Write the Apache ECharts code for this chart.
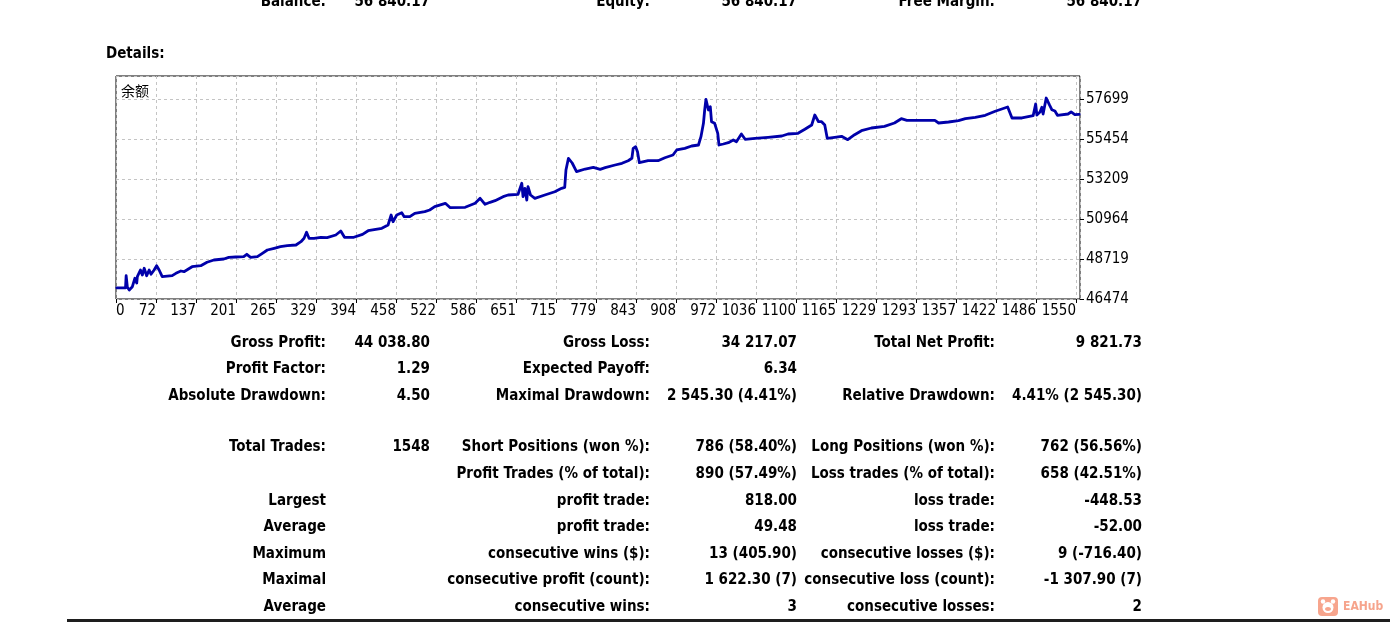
<!DOCTYPE html>
<html>
<head>
<meta charset="utf-8">
<script src="https://cdn.jsdelivr.net/npm/echarts@6/dist/echarts.min.js"></script>
<style>
html,body{margin:0;padding:0;background:#fff;}
#chart{width:1390px;height:622px;}
</style>
</head>
<body>
<div id="chart"></div>
<script>
// ---------- DATA ----------
const chartTitle = '余额';
const xTickLabels = ['0','72','137','201','265','329','394','458','522','586','651','715','779','843','908','972','1036','1100','1165','1229','1293','1357','1422','1486','1550'];
const trades = [9,23,24,26,29,34,38,41,42,47,50,53,57,61,64,69,73,77,82,98,104,112,117,130,144,154,165,181,189,200,213,218,224,235,243,251,262,272,283,297,305,310,314,318,326,337,347,361,369,375,390,404,413,435,445,450,453,456,459,461,467,471,480,488,504,512,520,537,545,569,585,593,601,609,617,630,638,654,660,662,665,668,670,674,681,697,713,724,729,731,735,741,748,762,775,786,794,810,821,831,837,839,843,846,849,863,879,890,903,909,922,933,944,948,952,954,956,960,963,965,970,975,977,984,992,1000,1005,1013,1019,1035,1056,1078,1088,1104,1115,1126,1131,1137,1142,1147,1151,1163,1174,1184,1195,1206,1222,1243,1259,1270,1279,1297,1324,1330,1346,1362,1373,1389,1405,1421,1441,1448,1464,1482,1486,1488,1493,1496,1498,1503,1508,1512,1517,1521,1538,1543,1549,1556];
const balance = [47100,47100,47780,47130,46980,47165,47636,47372,47726,48102,47821,48197,47782,48102,47860,48102,48343,48102,47726,47782,47916,48046,48006,48287,48343,48534,48663,48719,48814,48831,48848,48983,48814,48848,49039,49224,49320,49409,49465,49505,49690,49881,50217,49881,49881,49937,49914,50066,50290,49937,49937,50105,50307,50442,50627,51188,50812,50723,51188,51093,51317,51093,51093,51284,51374,51469,51654,51845,51598,51621,51845,52126,51789,51901,51991,52216,52311,52350,52968,52216,52687,52030,52777,52311,52126,52311,52496,52687,52743,53714,54371,54107,53619,53770,53866,53753,53843,53995,54090,54236,54371,54932,55022,54741,54124,54236,54236,54404,54556,54837,54932,55061,55117,55583,56335,57082,57682,57082,57267,56425,56335,55774,55117,55173,55246,55398,55303,55735,55437,55493,55549,55622,55735,55774,55998,56240,56801,56425,56425,56240,55493,55549,55605,55415,55695,55920,56071,56167,56352,56593,56503,56503,56503,56352,56408,56481,56593,56672,56784,57009,57250,56633,56633,56762,57418,56801,56970,57233,56857,57755,57379,57099,57025,56784,56857,56970,56818,56840];

const headerRow = ['Balance:','56 840.17','Equity:','56 840.17','Free Margin:','56 840.17'];
const detailsTitle = 'Details:';
const summaryRows = [
  ['Gross Profit:','44 038.80','Gross Loss:','34 217.07','Total Net Profit:','9 821.73'],
  ['Profit Factor:','1.29','Expected Payoff:','6.34','',''],
  ['Absolute Drawdown:','4.50','Maximal Drawdown:','2 545.30 (4.41%)','Relative Drawdown:','4.41% (2 545.30)']
];
const tradeRows = [
  ['Total Trades:','1548','Short Positions (won %):','786 (58.40%)','Long Positions (won %):','762 (56.56%)'],
  ['','','Profit Trades (% of total):','890 (57.49%)','Loss trades (% of total):','658 (42.51%)'],
  ['Largest','','profit trade:','818.00','loss trade:','-448.53'],
  ['Average','','profit trade:','49.48','loss trade:','-52.00'],
  ['Maximum','','consecutive wins ($):','13 (405.90)','consecutive losses ($):','9 (-716.40)'],
  ['Maximal','','consecutive profit (count):','1 622.30 (7)','consecutive loss (count):','-1 307.90 (7)'],
  ['Average','','consecutive wins:','3','consecutive losses:','2']
];
const watermarkText = 'EAHub';

// ---------- LAYOUT ----------
const FONT = '"DejaVu Sans Condensed","DejaVu Sans",sans-serif';
const colRight = [326, 430, 650, 797, 995, 1142];
const headerY = 2;
const summaryY = [343, 369.5, 396];
const tradeY = [447.5, 474, 501, 527.5, 554, 580.5, 607];

function textEl(txt, x, y, opts) {
  opts = opts || {};
  return {
    type: 'text', x: x, y: y, silent: true, z: 10,
    style: {
      text: txt,
      fill: opts.fill || '#000',
      fontSize: opts.fontSize || 15,
      fontWeight: opts.fontWeight || 'bold',
      fontFamily: opts.fontFamily || FONT,
      align: opts.align || 'right', textAlign: opts.align || 'right',
      verticalAlign: 'middle', textVerticalAlign: 'middle'
    }
  };
}

const graphics = [];
function addRow(row, y) {
  row.forEach((t, i) => { if (t) graphics.push(textEl(t, colRight[i], y)); });
}
addRow(headerRow, headerY);
summaryRows.forEach((r, i) => addRow(r, summaryY[i]));
tradeRows.forEach((r, i) => addRow(r, tradeY[i]));
graphics.push(textEl(detailsTitle, 106, 54, {align: 'left'}));
graphics.push(textEl(chartTitle, 121, 90.5, {align: 'left', fontWeight: 'normal', fontFamily: '"Noto Sans CJK SC",sans-serif', fontSize: 14}));
// bottom bar
graphics.push({type: 'rect', silent: true, shape: {x: 67, y: 619, width: 1323, height: 3}, style: {fill: '#1e1e1e'}});
// watermark
graphics.push({type: 'rect', silent: true, shape: {x: 1318, y: 597, width: 20, height: 19, r: 4}, style: {fill: '#f7a58d'}});
graphics.push({type: 'circle', silent: true, shape: {cx: 1328, cy: 607.5, r: 5.5}, style: {fill: '#fff'}});
graphics.push({type: 'circle', silent: true, shape: {cx: 1323, cy: 601.5, r: 2.2}, style: {fill: '#fff'}});
graphics.push({type: 'circle', silent: true, shape: {cx: 1333, cy: 601.5, r: 2.2}, style: {fill: '#fff'}});
graphics.push({type: 'ellipse', silent: true, shape: {cx: 1328, cy: 609, rx: 3, ry: 2}, style: {fill: '#f7a58d'}});
graphics.push(textEl(watermarkText, 1343, 606.5, {align: 'left', fill: '#f6a48c', fontSize: 12}));

const chart = echarts.init(document.getElementById('chart'), null, {renderer: 'canvas'});
chart.setOption({
  animation: false,
  backgroundColor: '#fff',
  grid: {left: 116, right: 310, top: 76, bottom: 323, show: true, borderColor: '#000', borderWidth: 1, backgroundColor: 'transparent'},
  xAxis: {
    type: 'value', min: 7.7, max: 1557.3, interval: 64.3,
    axisLine: {show: false},
    axisTick: {show: true, length: 4, lineStyle: {color: '#000'}},
    splitLine: {show: true, lineStyle: {color: '#c4c4c4', type: [3, 3], width: 1}},
    axisLabel: {
      show: true, margin: 5, align: 'right', alignMinLabel: 'left', showMaxLabel: false,
      color: '#000', fontSize: 15, fontFamily: FONT,
      formatter: (v, i) => (i < xTickLabels.length ? xTickLabels[i] : '')
    }
  },
  yAxis: {
    type: 'value', position: 'right', min: 46474, max: 58990, interval: 2245,
    axisLine: {show: false},
    axisTick: {show: true, length: 4, lineStyle: {color: '#000'}},
    splitLine: {show: true, lineStyle: {color: '#c4c4c4', type: [3, 3], width: 1}},
    axisLabel: {
      show: true, margin: 6, showMaxLabel: false, color: '#000', fontSize: 15, fontFamily: FONT,
      formatter: v => String(Math.round(v))
    }
  },
  series: [{
    type: 'line', showSymbol: false, clip: true,
    data: trades.map((t, i) => [t, balance[i]]),
    lineStyle: {color: '#0000aa', width: 2.8, join: 'round', cap: 'round'},
    z: 3
  }],
  graphic: graphics
});
</script>
</body>
</html>
